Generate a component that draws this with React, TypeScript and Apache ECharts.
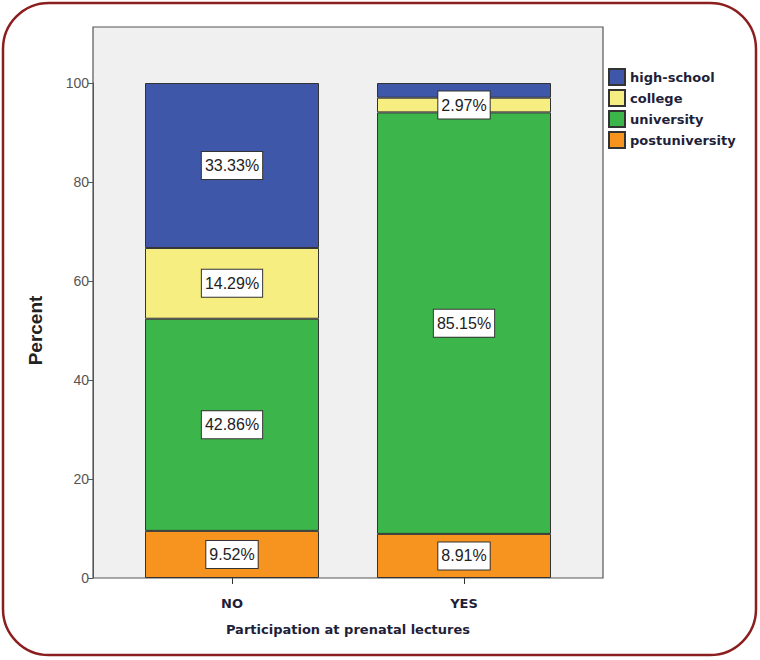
import React, { useEffect, useRef } from "react";
import * as echarts from "echarts";

const categories = ["NO", "YES"];
const seriesNames = ["high-school", "college", "university", "postuniversity"];
const postuniversity = [9.52, 8.91];
const university = [42.86, 85.15];
const college = [14.29, 2.97];
const highSchool = [33.33, 2.97];
const hiddenLabels: Record<string, number[]> = { "high-school": [1] };
const yTicks = [0, 20, 40, 60, 80, 100];

const colors: Record<string, string> = {
  "high-school": "#3e57a8",
  college: "#f6ee80",
  university: "#3cb64a",
  postuniversity: "#f7941f",
};

export default function App() {
  const ref = useRef<HTMLDivElement>(null);
  useEffect(() => {
    if (!ref.current) return;
    const chart = echarts.init(ref.current, null, { renderer: "svg" });
    const valuesByName: Record<string, number[]> = {
      postuniversity,
      university,
      college,
      "high-school": highSchool,
    };
    const stackOrder = ["postuniversity", "university", "college", "high-school"];
    const series = stackOrder.map((name) => ({
      name,
      type: "bar",
      stack: "total",
      barWidth: 174,
      itemStyle: { color: colors[name], borderColor: "#333", borderWidth: 1 },
      label: {
        show: true,
        position: "inside",
        formatter: (p: any) => p.value.toFixed(2) + "%",
        backgroundColor: "#ffffff",
        borderColor: "#333",
        borderWidth: 1,
        padding: [6, 3, 5, 3],
        color: "#222",
        fontFamily: "Liberation Sans, Arial, sans-serif",
        fontSize: 16,
      },
      data: valuesByName[name].map((v, i) =>
        (hiddenLabels[name] || []).includes(i) ? { value: v, label: { show: false } } : v
      ),
    }));
    chart.setOption({
      animation: false,
      backgroundColor: "#ffffff",
      graphic: [
        {
          type: "rect",
          z: -10,
          shape: { x: 3, y: 3, width: 753, height: 652, r: 46 },
          style: { fill: "#ffffff", stroke: "#8b1e1e", lineWidth: 2.5 },
        },
        {
          type: "rect",
          z: -5,
          shape: { x: 93, y: 27, width: 510, height: 551 },
          style: { fill: "#f0f0f0", stroke: "#555", lineWidth: 1.2 },
        },
      ],
      legend: {
        data: seriesNames,
        orient: "vertical",
        left: 608,
        top: 68,
        padding: 0,
        itemWidth: 16,
        itemHeight: 16,
        itemGap: 3,
        icon: "rect",
        textStyle: {
          fontFamily: "DejaVu Sans",
          fontWeight: "bold",
          fontSize: 13,
          color: "#1f1f3a",
        },
      },
      grid: { left: 116, top: 83, width: 464, height: 495 },
      xAxis: {
        type: "category",
        data: categories,
        name: "Participation at prenatal lectures",
        nameLocation: "middle",
        nameGap: 45,
        nameTextStyle: {
          fontFamily: "DejaVu Sans",
          fontWeight: "bold",
          fontSize: 13,
          color: "#1f1f3a",
        },
        axisLine: { show: false },
        axisTick: { show: true, alignWithLabel: true, length: 6, lineStyle: { color: "#333" } },
        axisLabel: {
          margin: 19,
          fontFamily: "DejaVu Sans",
          fontWeight: "bold",
          fontSize: 13,
          color: "#1f1f3a",
        },
      },
      yAxis: {
        type: "value",
        min: yTicks[0],
        max: yTicks[yTicks.length - 1],
        interval: 20,
        offset: 23,
        name: "Percent",
        nameLocation: "middle",
        nameGap: 48,
        nameTextStyle: {
          fontFamily: "Liberation Sans, Arial, sans-serif",
          fontWeight: "bold",
          fontSize: 19,
          color: "#222",
        },
        axisLine: { show: true, lineStyle: { color: "#555" } },
        axisTick: { show: true, length: 5, lineStyle: { color: "#555" } },
        splitLine: { show: false },
        axisLabel: {
          margin: 4,
          fontFamily: "Liberation Sans, Arial, sans-serif",
          fontSize: 14,
          color: "#555",
        },
      },
      series,
    });
    return () => chart.dispose();
  }, []);
  return (
    <div
      ref={ref}
      style={{ position: "fixed", left: 0, top: 0, width: 760, height: 660 }}
    />
  );
}
